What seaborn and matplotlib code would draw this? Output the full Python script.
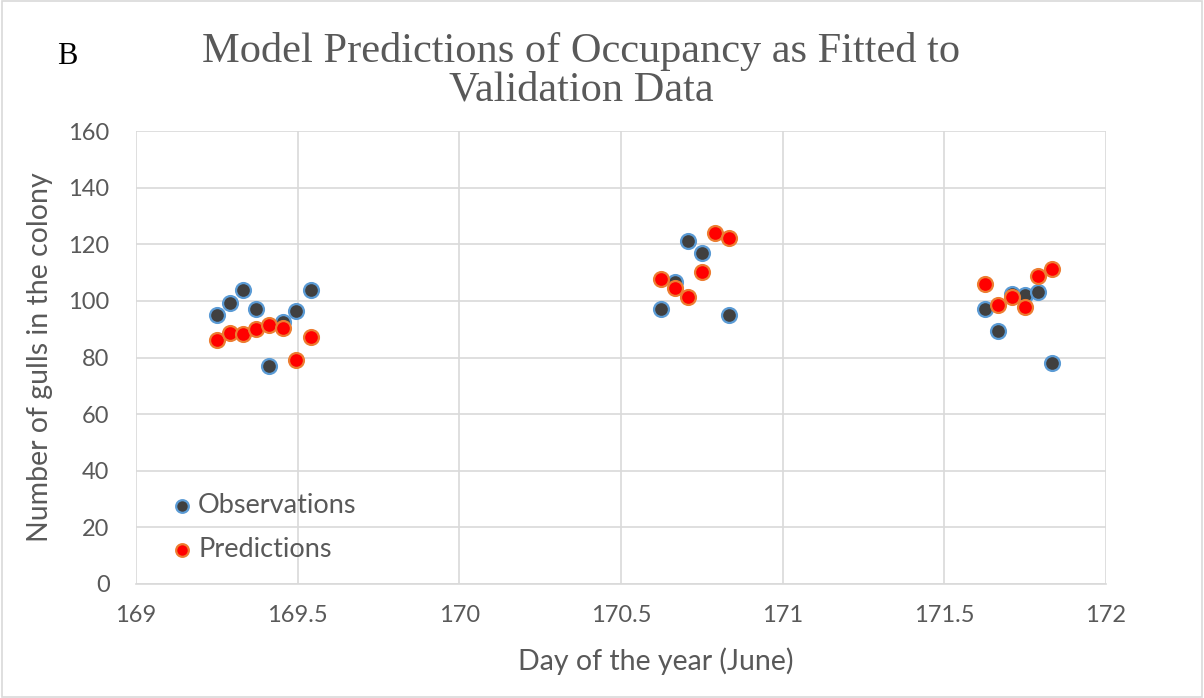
import numpy as np
import pandas as pd
import matplotlib
matplotlib.use("Agg")
import matplotlib.pyplot as plt
import seaborn as sns

obs_day = [169.25, 169.29, 169.33, 169.37, 169.41, 169.455, 169.495, 169.54,
           170.625, 170.667, 170.708, 170.75, 170.833,
           171.625, 171.667, 171.708, 171.75, 171.79, 171.833]
obs_count = [95, 99.3, 104, 97, 77, 92.5, 96.3, 104,
             97, 106.5, 121, 117, 95,
             97, 89.4, 102.5, 102, 103, 78]

pred_day = [169.25, 169.29, 169.33, 169.37, 169.41, 169.455, 169.495, 169.54,
            170.625, 170.667, 170.708, 170.75, 170.79, 170.833,
            171.625, 171.667, 171.708, 171.75, 171.79, 171.833]
pred_count = [86.2, 88.7, 88.3, 90, 91.5, 90.4, 79.1, 87.2,
              107.7, 104.6, 101.4, 110.2, 124, 122.2,
              105.9, 98.5, 101.4, 97.8, 108.8, 111.3]

x_ticks = [169, 169.5, 170, 170.5, 171, 171.5, 172]
y_ticks = [0, 20, 40, 60, 80, 100, 120, 140, 160]

df = pd.concat([
    pd.DataFrame({"day": obs_day, "count": obs_count, "series": "Observations"}),
    pd.DataFrame({"day": pred_day, "count": pred_count, "series": "Predictions"}),
])

sns.set_style("white")
plt.rcParams["font.family"] = ["Lato", "DejaVu Sans"]
GREY = "#595959"

fig = plt.figure(figsize=(12.04, 6.98), dpi=100)
ax = fig.add_axes([136 / 1204, 1 - 584 / 698, 970 / 1204, 453 / 698])

styles = {"Observations": ("#404040", "#5B9BD5"), "Predictions": ("#FF0000", "#ED7D31")}
for name, (face, edge) in styles.items():
    sub = df[df["series"] == name]
    sns.scatterplot(data=sub, x="day", y="count", ax=ax, color=face,
                    edgecolor=edge, linewidth=1.6, s=115, label=name, zorder=3)

ax.set_xlim(169, 172)
ax.set_ylim(0, 160)
ax.set_xticks(x_ticks)
ax.set_xticklabels([f"{t:g}" for t in x_ticks])
ax.set_yticks(y_ticks)
ax.grid(True, color="#D9D9D9", linewidth=1.2)
for side in ["top", "right", "left"]:
    ax.spines[side].set_visible(False)
ax.spines["bottom"].set_color("#D9D9D9")
ax.spines["bottom"].set_linewidth(1.2)
ax.tick_params(axis="both", length=0, labelsize=17, labelcolor=GREY)
ax.tick_params(axis="x", pad=15)
ax.tick_params(axis="y", pad=19)

ax.set_xlabel("Day of the year (June)", fontsize=20.5, color=GREY)
ax.set_ylabel("Number of gulls in the colony", fontsize=20.5, color=GREY)
ax.xaxis.set_label_coords((656 - 136) / 970, -(661 - 584) / 453)
ax.yaxis.set_label_coords(-(136 - 40) / 970, (584 - 357) / 453)
ax.xaxis.label.set_va("center")
ax.yaxis.label.set_va("center")

leg = ax.legend(loc="lower left", bbox_to_anchor=(0.036, 0.049), frameon=False,
                fontsize=19.5, handlelength=0.8, handletextpad=0.2, labelspacing=0.7,
                markerscale=0.85, borderpad=0, borderaxespad=0)
for t in leg.get_texts():
    t.set_color(GREY)

fig.text(581 / 1204, 1 - 71 / 698, "Model Predictions of Occupancy as Fitted to\nValidation Data",
         ha="center", va="center", fontsize=30.5, color=GREY,
         family="Liberation Serif", linespacing=1.0)
fig.text(57 / 1204, 1 - 56 / 698, "B", fontsize=22, family="Liberation Serif",
         color="black", va="center", ha="left")

fig.patches.append(plt.Rectangle((0.002, 0.002), 0.996, 0.996, transform=fig.transFigure,
                                 fill=False, edgecolor="#D9D9D9", linewidth=1.2))

fig.savefig("out.png", dpi=100)
